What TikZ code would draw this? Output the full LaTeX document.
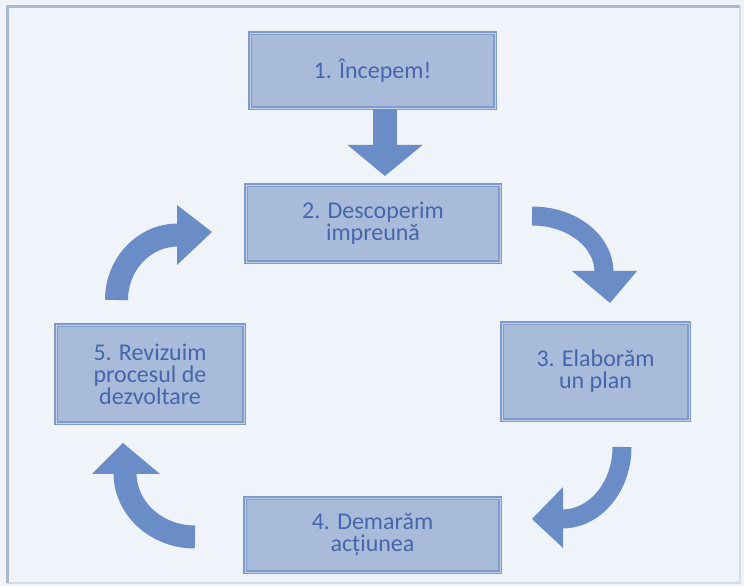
\documentclass[tikz,border=0pt]{standalone}
\usepackage{fontspec}
\setmainfont{Carlito}
\definecolor{bgcol}{HTML}{F0F3F9}
\definecolor{framecol}{HTML}{A9B9D5}
\definecolor{framelight}{HTML}{D3DCEB}
\definecolor{boxfill}{HTML}{A9BBDB}
\definecolor{boxborder}{HTML}{7F9BCC}
\definecolor{boxinner}{HTML}{C3D0E7}
\definecolor{textcol}{HTML}{4566AA}
\definecolor{arrowcol}{HTML}{6B8DC7}
\tikzset{
  stepbox/.style={fill=boxfill, draw=boxborder, line width=1.2pt, double=boxinner, double distance=0.8pt,
    text=textcol, align=center, inner sep=0pt, font=\fontsize{24}{22}\selectfont},
  arrowbody/.style={draw=arrowcol, line width=22pt},
  arrowhead/.style={fill=arrowcol}
}
\begin{document}
\begin{tikzpicture}[x=1pt,y=1pt]
\useasboundingbox (0,0) rectangle (744,586);
\fill[bgcol] (0,0) rectangle (744,586);
% frame
\draw[framelight, line width=2pt] (7,3) -- (740,3) -- (740,579);
\draw[framecol, line width=3pt] (7,3) -- (7,579) -- (740,579);
% boxes
\node[stepbox, minimum width=245pt, minimum height=75pt] (b1) at (372.5,515.5) {1. Începem!};
\node[stepbox, minimum width=254pt, minimum height=77pt] (b2) at (373,362.5) {2. Descoperim\\impreună};
\node[stepbox, minimum width=187pt, minimum height=97pt] (b3) at (595.5,214.5) {3. Elaborăm\\un plan};
\node[stepbox, minimum width=255pt, minimum height=74pt] (b4) at (372.5,51) {4. Demarăm\\acțiunea};
\node[stepbox, minimum width=188pt, minimum height=98pt] (b5) at (150,212) {5. Revizuim\\procesul de\\dezvoltare};
% straight arrow 1 -> 2
\coordinate (h1) at (385,441);
\draw[arrowbody, line width=24pt] (b1.south -| h1) -- (h1);
\fill[arrowhead] (347.5,441) -- (385,410) -- (422.5,441) -- cycle;
% arrow 2 -> 3 (top right)
\coordinate (t23) at (532,370);
\draw[arrowbody, line width=19pt] (t23) arc[start angle=90, end angle=0, x radius=72pt, y radius=56pt];
\fill[arrowhead] (572,315) -- (610,283) -- (637,315) -- cycle;
% arrow 3 -> 4 (bottom right)
\coordinate (t34) at (622,139);
\draw[arrowbody, line width=19pt] (t34) arc[start angle=0, end angle=-90, x radius=60pt, y radius=72pt];
\fill[arrowhead] (563,99) -- (532,67) -- (563,38) -- cycle;
% arrow 4 -> 5 (bottom left)
\coordinate (t45) at (195,49);
\draw[arrowbody, line width=23pt] (t45) arc[start angle=270, end angle=180, x radius=70pt, y radius=64pt];
\fill[arrowhead] (92,112) -- (123,143) -- (160,112) -- cycle;
% arrow 5 -> 2 (top left)
\coordinate (t52) at (116.5,286);
\draw[arrowbody, line width=23pt] (t52) arc[start angle=180, end angle=90, x radius=61.5pt, y radius=65pt];
\fill[arrowhead] (177,381) -- (212,354) -- (177,321) -- cycle;
\end{tikzpicture}
\end{document}
